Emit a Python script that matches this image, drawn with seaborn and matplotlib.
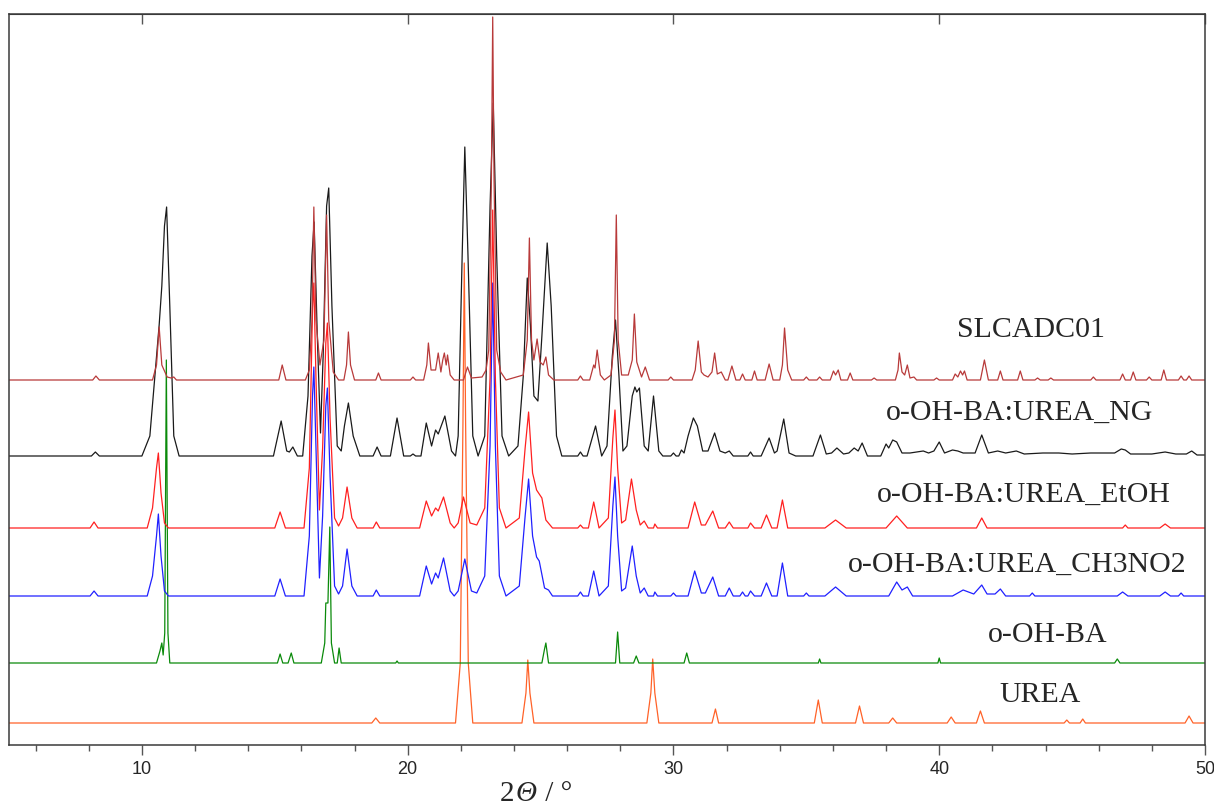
import pandas as pd
import seaborn as sns
import matplotlib.pyplot as plt
from matplotlib.ticker import MultipleLocator

# vertices (2theta / deg, intensity above the pattern's own baseline)
urea = [(5.0, 0), (18.65, 0), (18.8, 5), (18.95, 0),
        (21.8, 0), (21.98, 60), (22.08, 300), (22.13, 460), (22.18, 300), (22.28, 60), (22.45, 0),
        (24.3, 0), (24.45, 30), (24.52, 63), (24.6, 30), (24.75, 0),
        (29.0, 0), (29.15, 30), (29.22, 64), (29.3, 30), (29.45, 0),
        (31.45, 0), (31.58, 14), (31.7, 0),
        (35.3, 0), (35.45, 23), (35.6, 0),
        (36.85, 0), (37.0, 17), (37.15, 0),
        (38.1, 0), (38.25, 5), (38.4, 0),
        (40.3, 0), (40.45, 6), (40.6, 0),
        (41.4, 0), (41.55, 12), (41.7, 0),
        (44.7, 0), (44.8, 3), (44.9, 0), (45.3, 0), (45.4, 4), (45.5, 0),
        (49.25, 0), (49.4, 7), (49.55, 0), (50.0, 0)]

ohba = [(5.0, 0), (10.55, 0), (10.68, 12), (10.75, 20), (10.8, 8), (10.86, 30), (10.92, 303),
        (10.98, 30), (11.05, 0),
        (15.1, 0), (15.2, 9), (15.3, 0), (15.5, 0), (15.62, 10), (15.72, 0),
        (16.75, 0), (16.88, 20), (16.92, 60), (17.0, 60), (17.07, 136), (17.13, 20), (17.25, 0),
        (17.35, 0), (17.42, 15), (17.5, 0),
        (19.55, 0), (19.6, 2), (19.65, 0),
        (25.05, 0), (25.15, 14), (25.2, 20), (25.3, 0),
        (27.82, 0), (27.9, 31), (27.98, 0),
        (28.5, 0), (28.6, 7), (28.7, 0),
        (30.4, 0), (30.5, 10), (30.6, 0),
        (35.45, 0), (35.5, 4), (35.55, 0),
        (39.95, 0), (40.0, 5), (40.05, 0),
        (46.6, 0), (46.7, 4), (46.8, 0), (50.0, 0)]

ch3no2 = [(5.0, 0), (8.05, 0), (8.2, 5), (8.35, 0),
          (10.2, 0), (10.4, 20), (10.55, 60), (10.62, 82), (10.72, 40), (10.85, 5), (11.0, 0),
          (15.0, 0), (15.2, 17), (15.4, 0),
          (16.1, 0), (16.3, 60), (16.42, 200), (16.47, 229), (16.55, 150), (16.68, 18), (16.8, 80),
          (16.92, 190), (16.98, 208), (17.08, 120), (17.25, 10), (17.4, 2),
          (17.55, 10), (17.72, 47), (17.9, 10), (18.1, 0),
          (18.7, 0), (18.82, 6), (18.95, 0),
          (20.45, 0), (20.7, 30), (20.9, 12), (21.05, 23), (21.15, 18), (21.35, 38), (21.6, 5),
          (21.75, 0), (21.9, 5), (22.15, 37), (22.4, 5), (22.6, 3),
          (22.9, 20), (23.1, 150), (23.2, 313), (23.3, 150), (23.45, 20), (23.7, 0),
          (24.2, 10), (24.42, 80), (24.55, 117), (24.7, 60), (24.85, 39), (24.95, 35), (25.15, 8),
          (25.3, 6), (25.45, 0),
          (26.4, 0), (26.5, 4), (26.6, 0),
          (26.8, 0), (27.0, 25), (27.2, 0),
          (27.55, 10), (27.72, 90), (27.8, 119), (27.9, 60), (28.05, 5), (28.2, 8), (28.45, 50),
          (28.6, 20), (28.75, 3), (28.9, 8), (29.05, 0),
          (29.25, 0), (29.3, 4), (29.4, 0),
          (29.9, 0), (30.0, 3), (30.1, 0),
          (30.55, 0), (30.8, 25), (31.05, 3), (31.2, 3), (31.48, 19), (31.7, 0),
          (31.95, 0), (32.1, 8), (32.25, 0), (32.5, 0), (32.6, 4), (32.7, 0), (32.8, 0), (32.9, 5),
          (33.05, 0), (33.3, 0), (33.5, 13), (33.7, 0),
          (33.9, 0), (34.1, 33), (34.3, 0),
          (34.9, 0), (35.0, 3), (35.1, 0),
          (35.7, 0), (36.1, 9), (36.5, 0),
          (38.1, 0), (38.4, 14), (38.6, 6), (38.8, 9), (39.0, 0),
          (40.5, 0), (40.9, 6), (41.3, 2), (41.6, 11), (41.8, 2), (42.1, 2), (42.3, 7), (42.5, 0),
          (43.4, 0), (43.5, 3), (43.6, 0),
          (46.7, 0), (46.9, 4), (47.1, 0),
          (48.3, 0), (48.5, 4), (48.7, 0),
          (49.0, 0), (49.1, 3), (49.2, 0), (50.0, 0)]

etoh = [(5.0, 0), (8.05, 0), (8.2, 6), (8.35, 0),
        (10.2, 0), (10.4, 20), (10.55, 60), (10.62, 75), (10.72, 35), (10.85, 5), (11.0, 0),
        (15.0, 0), (15.2, 16), (15.4, 0),
        (16.1, 0), (16.3, 60), (16.42, 220), (16.47, 245), (16.55, 150), (16.68, 18), (16.8, 80),
        (16.92, 185), (16.98, 205), (17.08, 110), (17.25, 10), (17.4, 2),
        (17.55, 10), (17.72, 41), (17.9, 10), (18.1, 0),
        (18.7, 0), (18.82, 6), (18.95, 0),
        (20.45, 0), (20.7, 27), (20.9, 12), (21.05, 20), (21.15, 17), (21.35, 31), (21.6, 5),
        (21.75, 0), (21.9, 5), (22.1, 31), (22.35, 5), (22.6, 3),
        (22.9, 20), (23.1, 150), (23.2, 318), (23.3, 150), (23.45, 20), (23.7, 0),
        (24.2, 10), (24.42, 80), (24.55, 116), (24.7, 55), (24.85, 38), (25.05, 30), (25.2, 8),
        (25.45, 0),
        (26.4, 0), (26.5, 3), (26.6, 0),
        (26.8, 0), (27.0, 26), (27.2, 0),
        (27.55, 10), (27.72, 90), (27.8, 118), (27.9, 60), (28.05, 5), (28.2, 8), (28.42, 49),
        (28.6, 18), (28.75, 3), (28.9, 7), (29.05, 0),
        (29.25, 0), (29.3, 4), (29.4, 0),
        (30.55, 0), (30.8, 26), (31.05, 3), (31.2, 3), (31.48, 17), (31.7, 0),
        (31.95, 0), (32.1, 6), (32.25, 0), (32.8, 0), (32.9, 5), (33.05, 0),
        (33.3, 0), (33.5, 13), (33.7, 0),
        (33.9, 0), (34.1, 28), (34.3, 0),
        (35.7, 0), (36.1, 8), (36.5, 0),
        (38.0, 0), (38.4, 12), (38.8, 0),
        (41.4, 0), (41.6, 10), (41.8, 0),
        (46.9, 0), (47.0, 3), (47.1, 0),
        (48.3, 0), (48.5, 4), (48.7, 0), (50.0, 0)]

ng = [(5.0, 0), (8.1, 0), (8.25, 4), (8.4, 0),
      (10.0, 0), (10.3, 20), (10.55, 100), (10.65, 131), (10.75, 170), (10.85, 230), (10.93, 249),
      (11.05, 150), (11.2, 20), (11.4, 0),
      (14.95, 0), (15.24, 35), (15.45, 5), (15.55, 4), (15.68, 9), (15.85, 0),
      (16.05, 0), (16.25, 60), (16.4, 200), (16.48, 234), (16.6, 120), (16.72, 23), (16.82, 100),
      (16.95, 250), (17.03, 268), (17.15, 150), (17.35, 10), (17.5, 5),
      (17.62, 30), (17.77, 53), (17.95, 20), (18.2, 0),
      (18.7, 0), (18.85, 9), (19.0, 0),
      (19.35, 0), (19.6, 38), (19.85, 0),
      (20.1, 0), (20.2, 2), (20.3, 0),
      (20.5, 0), (20.7, 33), (20.9, 10), (21.05, 26), (21.15, 22), (21.4, 40), (21.65, 5), (21.8, 0),
      (21.9, 20), (22.05, 200), (22.15, 309), (22.27, 200), (22.45, 20), (22.65, 0),
      (22.9, 20), (23.1, 250), (23.22, 353), (23.35, 200), (23.55, 20), (23.8, 0),
      (24.15, 10), (24.35, 80), (24.5, 178), (24.62, 130), (24.75, 60), (24.9, 55), (25.05, 120),
      (25.25, 213), (25.4, 150), (25.6, 20), (25.8, 0),
      (26.4, 0), (26.5, 4), (26.6, 0),
      (26.75, 0), (27.07, 30), (27.3, 0),
      (27.5, 10), (27.7, 100), (27.82, 136), (27.95, 80), (28.1, 5), (28.25, 10), (28.45, 60),
      (28.55, 69), (28.62, 64), (28.72, 68), (28.9, 10), (29.05, 5), (29.25, 60), (29.45, 5),
      (29.6, 0), (29.9, 0), (30.0, 3), (30.1, 0), (30.2, 0), (30.3, 6), (30.4, 3),
      (30.55, 20), (30.75, 38), (30.9, 30), (31.1, 5), (31.3, 5), (31.55, 23), (31.75, 5),
      (31.95, 3), (32.1, 5), (32.25, 0), (32.8, 0), (32.9, 4), (33.0, 0),
      (33.3, 0), (33.6, 18), (33.8, 3), (33.9, 5), (34.15, 37), (34.35, 3), (34.6, 0),
      (35.25, 0), (35.53, 21), (35.75, 2), (35.95, 3), (36.15, 8), (36.4, 2), (36.6, 3),
      (36.8, 8), (36.95, 5), (37.1, 13), (37.3, 0),
      (37.8, 0), (38.0, 12), (38.1, 8), (38.25, 16), (38.4, 14), (38.6, 3), (38.9, 3), (39.4, 5),
      (39.6, 3), (39.8, 5), (40.0, 14), (40.2, 3), (40.5, 6), (40.7, 5), (40.9, 3),
      (41.35, 3), (41.6, 21), (41.85, 3), (42.2, 5), (42.5, 3), (42.9, 5), (43.2, 2), (43.9, 3),
      (44.5, 3), (45.0, 2), (45.7, 3), (46.2, 3), (46.6, 3),
      (46.85, 7), (47.0, 6), (47.2, 2), (48.0, 2), (48.5, 4), (48.9, 2), (49.3, 2), (49.5, 5),
      (49.7, 1), (50.0, 1)]

slcadc01 = [(5.0, 0), (8.15, 0), (8.27, 4), (8.4, 0),
            (10.4, 0), (10.55, 15), (10.65, 53), (10.75, 15), (10.95, 3), (11.1, 2), (11.2, 3),
            (11.3, 0),
            (15.15, 0), (15.28, 15), (15.42, 0),
            (16.15, 0), (16.3, 10), (16.4, 60), (16.47, 173), (16.55, 60), (16.7, 15), (16.85, 40),
            (16.95, 165), (17.03, 60), (17.2, 8), (17.4, 0),
            (17.6, 0), (17.7, 15), (17.77, 48), (17.85, 15), (18.0, 0),
            (18.8, 0), (18.9, 7), (19.0, 0),
            (20.1, 0), (20.2, 3), (20.3, 0),
            (20.6, 0), (20.72, 15), (20.78, 37), (20.88, 10), (21.05, 10), (21.15, 27), (21.25, 8),
            (21.32, 20), (21.38, 27), (21.45, 15), (21.5, 25), (21.6, 5), (21.75, 0),
            (22.1, 0), (22.25, 13), (22.4, 2), (22.8, 3), (22.95, 10), (23.05, 30), (23.15, 200),
            (23.2, 363), (23.25, 200), (23.35, 30), (23.5, 8), (23.7, 0),
            (24.35, 5), (24.5, 40), (24.58, 142), (24.66, 40), (24.75, 20), (24.87, 41), (24.98, 18),
            (25.1, 15), (25.2, 23), (25.3, 5), (25.5, 0),
            (26.4, 0), (26.5, 4), (26.6, 0),
            (26.85, 0), (27.0, 15), (27.05, 12), (27.13, 30), (27.25, 5), (27.4, 0),
            (27.65, 5), (27.78, 40), (27.85, 165), (27.92, 40), (28.05, 5), (28.3, 5), (28.45, 20),
            (28.53, 66), (28.62, 18), (28.8, 3), (28.94, 13), (29.1, 0),
            (29.8, 0), (29.9, 3), (30.0, 0),
            (30.7, 0), (30.82, 10), (30.93, 39), (31.05, 8), (31.15, 5), (31.3, 3), (31.45, 8),
            (31.55, 27), (31.65, 6), (31.8, 8), (31.95, 0),
            (32.05, 0), (32.2, 14), (32.35, 0), (32.5, 0), (32.6, 6), (32.7, 0), (32.95, 0),
            (33.05, 9), (33.15, 0), (33.45, 0), (33.6, 16), (33.75, 0),
            (34.0, 0), (34.1, 15), (34.18, 52), (34.3, 10), (34.45, 0),
            (34.9, 0), (35.0, 3), (35.1, 0), (35.4, 0), (35.5, 3), (35.6, 0),
            (35.9, 0), (36.02, 9), (36.1, 5), (36.2, 10), (36.3, 0), (36.55, 0), (36.65, 7),
            (36.75, 0), (37.45, 0), (37.55, 2), (37.65, 0),
            (38.35, 0), (38.45, 10), (38.5, 27), (38.6, 8), (38.7, 5), (38.8, 15), (38.9, 2),
            (39.05, 3), (39.15, 0), (39.8, 0), (39.9, 2), (40.0, 0),
            (40.5, 0), (40.6, 6), (40.7, 3), (40.8, 9), (40.88, 5), (40.95, 9), (41.05, 0),
            (41.55, 0), (41.7, 20), (41.85, 0),
            (42.2, 0), (42.3, 9), (42.4, 0), (42.95, 0), (43.05, 9), (43.15, 0),
            (43.6, 0), (43.7, 2), (43.8, 0), (44.1, 0), (44.2, 2), (44.3, 0),
            (45.7, 0), (45.8, 3), (45.9, 0),
            (46.8, 0), (46.9, 6), (47.0, 0), (47.2, 0), (47.3, 8), (47.4, 0),
            (47.8, 0), (47.9, 3), (48.0, 0), (48.35, 0), (48.45, 10), (48.55, 0),
            (49.0, 0), (49.1, 4), (49.2, 0), (49.3, 0), (49.4, 4), (49.5, 0), (50.0, 0)]

samples = ["UREA", "o-OH-BA", "o-OH-BA:UREA_CH3NO2", "o-OH-BA:UREA_EtOH",
           "o-OH-BA:UREA_NG", "SLCADC01"]
patterns = [urea, ohba, ch3no2, etoh, ng, slcadc01]
offsets = [22, 82, 149, 217, 289, 365]
colors = ["#FF6228", "#0A8A0A", "#2020FF", "#FF2020", "#1A1A1A", "#B83A3A"]
label_xy = [(1040, 695), (1048, 635), (1017, 565), (1024, 495), (1020, 413), (1031, 330)]

rows = []
for name, pts, off in zip(samples, patterns, offsets):
    for tt, inten in pts:
        rows.append((name, tt, inten + off))
df = pd.DataFrame(rows, columns=["sample", "two_theta", "y"])

sns.set_style("white")
plt.rcParams["font.family"] = ["Liberation Sans", "DejaVu Sans"]

W, H = 1214, 805
fig = plt.figure(figsize=(W / 100, H / 100), dpi=100)
ax = fig.add_axes([9 / W, 1 - 745 / H, (1205 - 9) / W, (745 - 14) / H])

sns.lineplot(data=df, x="two_theta", y="y", hue="sample", hue_order=samples,
             palette=colors, estimator=None, sort=False, legend=False, lw=0.9, ax=ax)

ax.set_xlim(5, 50)
ax.set_ylim(0, 731)
ax.set_yticks([])
ax.set_xlabel("")
ax.set_ylabel("")
ax.xaxis.set_major_locator(MultipleLocator(10))
ax.xaxis.set_minor_locator(MultipleLocator(2))
ax.tick_params(axis="x", which="major", direction="out", length=7.5, width=1,
               color="#555555", labelsize=13, pad=4, bottom=True)
ax.tick_params(axis="x", which="minor", direction="out", length=4.5, width=1,
               color="#555555", bottom=True)
for sp in ax.spines.values():
    sp.set_color("#3a3a3a")
    sp.set_linewidth(1.1)

top = ax.secondary_xaxis("top")
top.set_xticks([10, 20, 30, 40, 50])
top.tick_params(direction="in", length=7.5, width=1, color="#555555", labeltop=False)
top.spines["top"].set_color("#3a3a3a")

serif = ["Liberation Serif", "DejaVu Serif"]
for name, (px, py) in zip(samples, label_xy):
    fig.text(px / W, 1 - py / H, name, ha="center", va="center", fontsize=21.5, family=serif)

# axis title: "2" upright, Theta italic, " / °" upright
t1 = fig.text(500 / W, 1 - 801 / H, "2", ha="left", va="baseline", fontsize=21, family=serif)
t2 = ax.annotate("Θ", xy=(1, 0), xycoords=t1, xytext=(1, 0), textcoords="offset points",
                 ha="left", va="bottom", fontsize=21, family=serif, fontstyle="italic",
                 annotation_clip=False)
ax.annotate(" / °", xy=(1, 0), xycoords=t2, xytext=(1, 0), textcoords="offset points",
            ha="left", va="bottom", fontsize=21, family=serif, annotation_clip=False)

fig.savefig("out.png", dpi=100)
